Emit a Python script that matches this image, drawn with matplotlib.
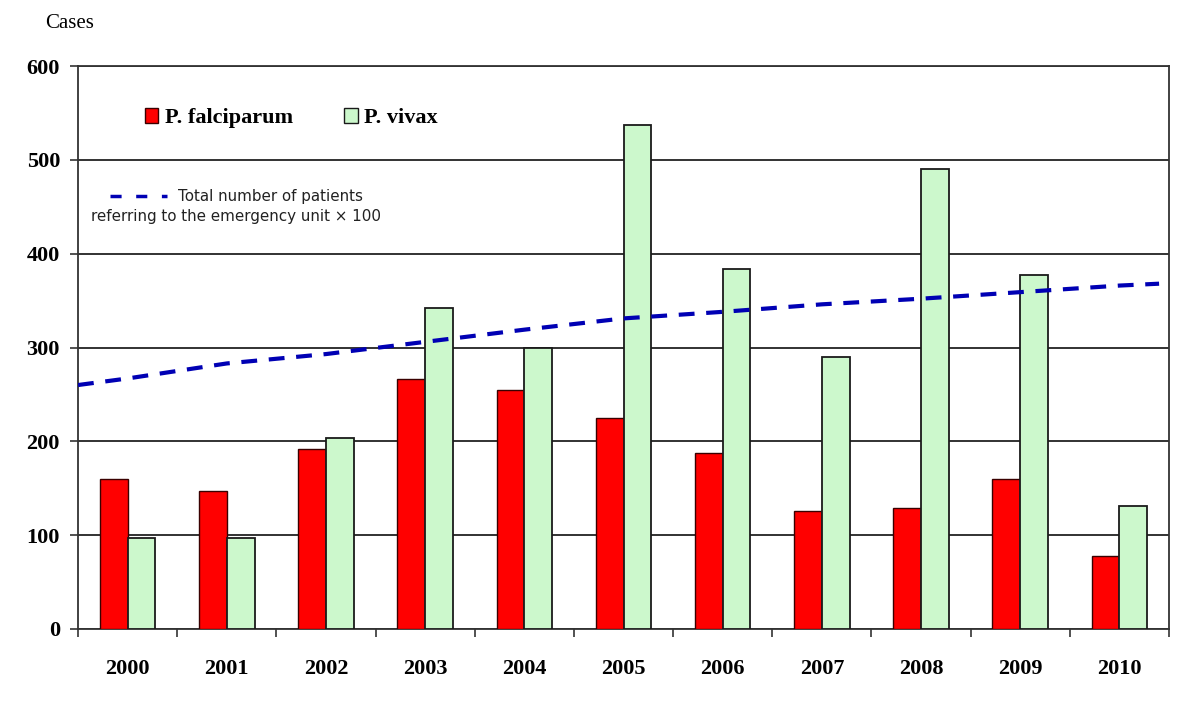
import matplotlib
matplotlib.use("Agg")
import matplotlib.pyplot as plt
import numpy as np
from matplotlib.patches import Patch
from matplotlib.lines import Line2D

years = ["2000", "2001", "2002", "2003", "2004", "2005", "2006", "2007", "2008", "2009", "2010"]
falciparum = [160, 147, 192, 266, 255, 225, 188, 126, 129, 160, 78]
vivax = [97, 97, 204, 342, 300, 537, 384, 290, 490, 377, 131]
# total patients referring to emergency unit x 100 (trend line), per year
total_patients = [267, 283, 293, 306, 319, 331, 338, 346, 352, 359, 366]
# trend line values at the left axis edge and at its right end
trend_start, trend_end = 260, 368
y_ticks = [0, 100, 200, 300, 400, 500, 600]

W, H = 1200, 702
fig = plt.figure(figsize=(W / 100, H / 100), dpi=100)
ax = fig.add_axes([78 / W, 1 - 629 / H, (1169 - 78) / W, (629 - 66) / H])

x = np.arange(len(years))
bw = 0.28
ax.bar(x - bw / 2, falciparum, bw, color="#ff0000", edgecolor="#3a0000", linewidth=1.0, zorder=3)
ax.bar(x + bw / 2, vivax, bw, color="#ccf8cc", edgecolor="#1a1a1a", linewidth=1.3, zorder=3)

# trend line
tx = np.concatenate([[-0.5], x, [10.4]])
ty = np.concatenate([[trend_start], total_patients, [trend_end]])
ax.plot(tx, ty, color="#0000b4", linewidth=3.0, linestyle=(0, (3.8, 2.8)), zorder=4,
        solid_capstyle="butt", dash_capstyle="butt")

ax.set_xlim(-0.5, len(years) - 0.5)
ax.set_ylim(0, 600)
ax.set_yticks(y_ticks)
ax.set_yticklabels([str(v) for v in y_ticks])
ax.yaxis.grid(True, color="#222222", linewidth=1.3, zorder=0)
ax.set_axisbelow(True)

ax.set_xticks(x)
ax.set_xticklabels(years)
ax.set_xticks(np.arange(len(years) + 1) - 0.5, minor=True)
ax.tick_params(axis="x", which="major", length=0, pad=21.5)
ax.tick_params(axis="x", which="minor", length=6, width=1.2, color="#333333", direction="out")
ax.tick_params(axis="y", which="major", length=6, width=1.2, color="#333333", direction="out", pad=7)

for lab in ax.get_xticklabels() + ax.get_yticklabels():
    lab.set_fontfamily("Liberation Serif")
    lab.set_fontweight("bold")
    lab.set_fontsize(16)

for s in ax.spines.values():
    s.set_color("#333333")
    s.set_linewidth(1.3)

# "Cases" label
fig.text(45 / W, 1 - 23 / H, "Cases", fontfamily="Liberation Serif", fontsize=15,
         ha="left", va="center")

# bar legend
handles = [Patch(facecolor="#ff0000", edgecolor="#3a0000", linewidth=1.0),
           Patch(facecolor="#ccf8cc", edgecolor="#1a1a1a", linewidth=1.0)]
leg = ax.legend(handles, ["P. falciparum", "P. vivax"], ncol=2, frameon=False,
                loc="center left", bbox_to_anchor=(125 / W, 1 - 118 / H),
                bbox_transform=fig.transFigure,
                prop={"family": "Liberation Serif", "weight": "bold", "size": 16},
                handlelength=0.6, handleheight=0.7, handletextpad=0.3, columnspacing=2.3)

# trend line annotation
fig.add_artist(Line2D([110 / W, 167 / W], [1 - 196 / H, 1 - 196 / H], color="#0000b4",
                      linewidth=2.5, linestyle=(0, (3.2, 4.2))))
fig.text(178 / W, 1 - 196 / H, "Total number of patients", fontfamily="DejaVu Sans",
         fontsize=10.9, ha="left", va="center", color="#222222")
fig.text(91 / W, 1 - 217 / H, "referring to the emergency unit \u00d7 100", fontfamily="DejaVu Sans",
         fontsize=10.9, ha="left", va="center", color="#222222")

fig.savefig("out.png", dpi=100, facecolor="white")
